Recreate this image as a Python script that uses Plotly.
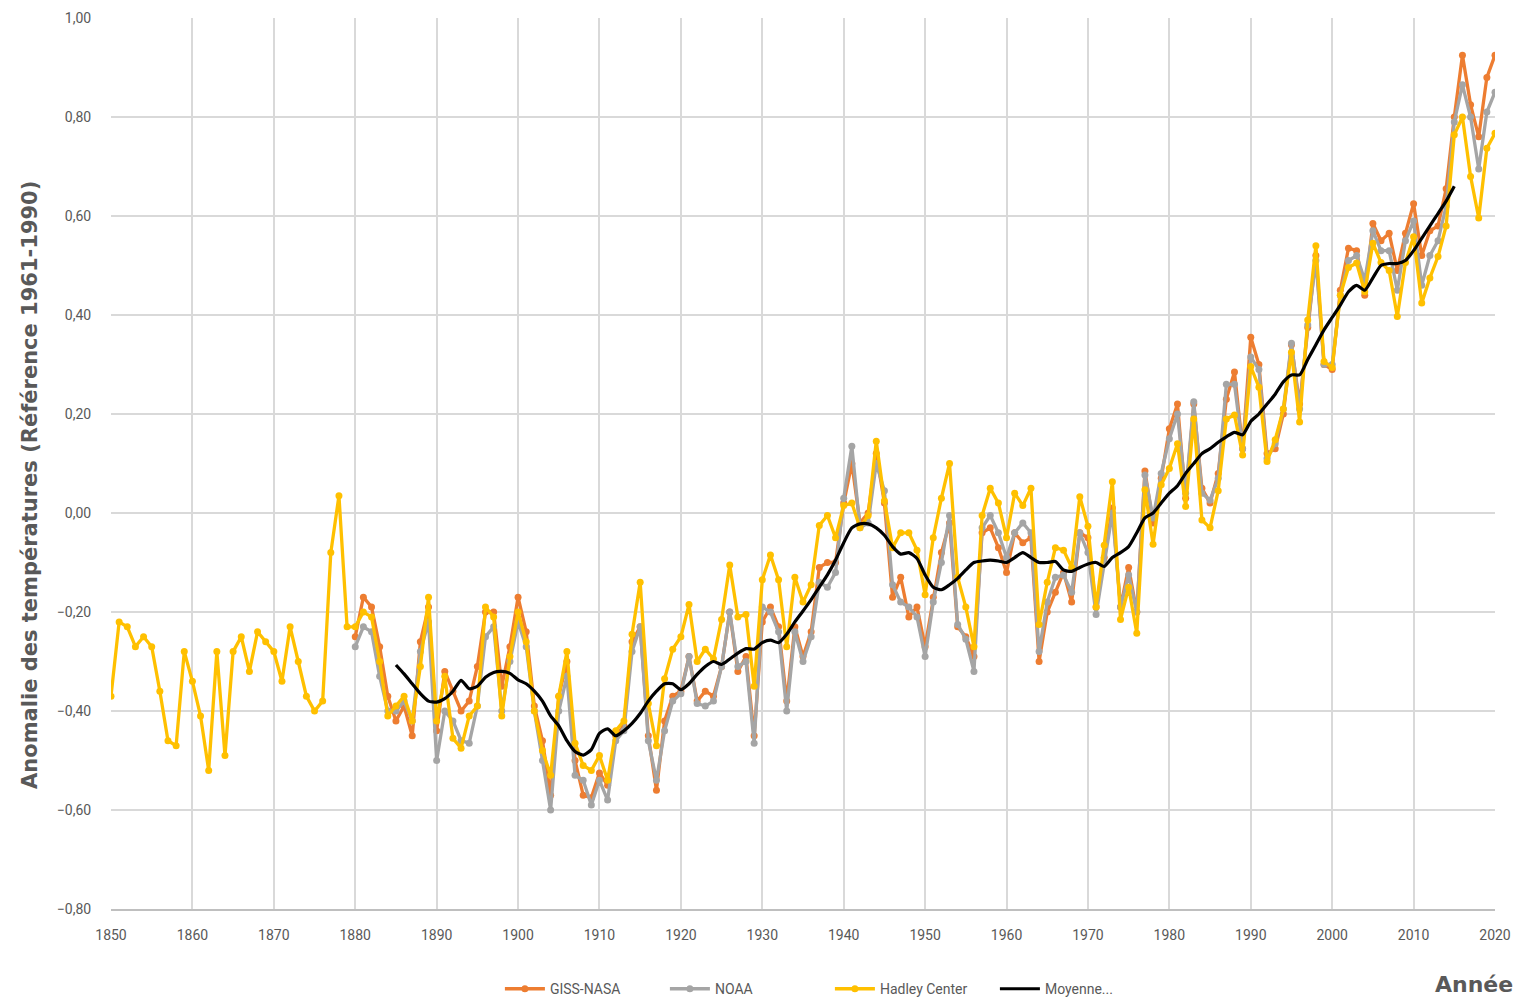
import plotly.graph_objects as go

# ---- Data ----
years_hadley = list(range(1850, 2021))
hadley = [
    -0.37, -0.22, -0.23, -0.27, -0.25, -0.27, -0.36, -0.46, -0.47, -0.28,   # 1850-1859
    -0.34, -0.41, -0.52, -0.28, -0.49, -0.28, -0.25, -0.32, -0.24, -0.26,   # 1860-1869
    -0.28, -0.34, -0.23, -0.30, -0.37, -0.40, -0.38, -0.08, 0.035, -0.23,   # 1870-1879
    -0.23, -0.20, -0.21, -0.30, -0.41, -0.39, -0.37, -0.42, -0.31, -0.17,   # 1880-1889
    -0.42, -0.33, -0.455, -0.475, -0.41, -0.39, -0.19, -0.21, -0.41, -0.29, # 1890-1899
    -0.20, -0.26, -0.40, -0.48, -0.53, -0.37, -0.28, -0.465, -0.51, -0.52,  # 1900-1909
    -0.49, -0.54, -0.44, -0.42, -0.245, -0.14, -0.385, -0.47, -0.335, -0.275, # 1910-1919
    -0.25, -0.185, -0.30, -0.275, -0.295, -0.215, -0.105, -0.21, -0.205, -0.35, # 1920-1929
    -0.135, -0.085, -0.135, -0.27, -0.13, -0.18, -0.145, -0.025, -0.005, -0.05, # 1930-1939
    0.015, 0.02, -0.03, -0.005, 0.145, 0.025, -0.07, -0.04, -0.04, -0.075,   # 1940-1949
    -0.165, -0.05, 0.03, 0.10, -0.13, -0.19, -0.27, -0.005, 0.05, 0.02,      # 1950-1959
    -0.05, 0.04, 0.015, 0.05, -0.225, -0.14, -0.07, -0.075, -0.11, 0.033,    # 1960-1969
    -0.027, -0.19, -0.065, 0.063, -0.215, -0.15, -0.243, 0.047, -0.063, 0.057, # 1970-1979
    0.09, 0.14, 0.013, 0.19, -0.014, -0.03, 0.045, 0.19, 0.198, 0.117,       # 1980-1989
    0.296, 0.254, 0.104, 0.148, 0.21, 0.325, 0.184, 0.39, 0.54, 0.306,       # 1990-1999
    0.294, 0.44, 0.496, 0.505, 0.447, 0.545, 0.506, 0.49, 0.397, 0.506,      # 2000-2009
    0.558, 0.424, 0.475, 0.518, 0.58, 0.764, 0.80, 0.68, 0.596, 0.737,       # 2010-2019
    0.767,                                                                    # 2020
]

years_main = list(range(1880, 2021))
giss = [
    -0.25, -0.17, -0.19, -0.27, -0.37, -0.42, -0.39, -0.45, -0.26, -0.19,   # 1880-1889
    -0.44, -0.32, -0.36, -0.40, -0.38, -0.31, -0.20, -0.20, -0.35, -0.27,   # 1890-1899
    -0.17, -0.24, -0.39, -0.46, -0.57, -0.37, -0.30, -0.50, -0.57, -0.575,  # 1900-1909
    -0.525, -0.55, -0.45, -0.43, -0.26, -0.23, -0.45, -0.56, -0.42, -0.37,  # 1910-1919
    -0.36, -0.29, -0.38, -0.36, -0.37, -0.31, -0.20, -0.32, -0.29, -0.45,   # 1920-1929
    -0.22, -0.19, -0.23, -0.38, -0.23, -0.29, -0.24, -0.11, -0.10, -0.10,   # 1930-1939
    0.02, 0.10, -0.02, 0.00, 0.12, 0.02, -0.17, -0.13, -0.21, -0.19,        # 1940-1949
    -0.27, -0.17, -0.08, -0.02, -0.23, -0.25, -0.29, -0.04, -0.03, -0.07,   # 1950-1959
    -0.12, -0.04, -0.06, -0.05, -0.30, -0.20, -0.16, -0.12, -0.18, -0.04,   # 1960-1969
    -0.05, -0.19, -0.09, 0.01, -0.19, -0.11, -0.20, 0.085, -0.02, 0.07,     # 1970-1979
    0.17, 0.22, 0.03, 0.22, 0.05, 0.02, 0.08, 0.23, 0.285, 0.13,            # 1980-1989
    0.355, 0.30, 0.12, 0.13, 0.20, 0.34, 0.22, 0.375, 0.52, 0.30,           # 1990-1999
    0.29, 0.45, 0.535, 0.53, 0.44, 0.585, 0.55, 0.565, 0.49, 0.565,         # 2000-2009
    0.625, 0.52, 0.57, 0.58, 0.655, 0.80, 0.925, 0.825, 0.76, 0.88,         # 2010-2019
    0.925,                                                                   # 2020
]
noaa = [
    -0.27, -0.23, -0.24, -0.33, -0.40, -0.40, -0.38, -0.42, -0.28, -0.22,   # 1880-1889
    -0.50, -0.40, -0.42, -0.46, -0.465, -0.39, -0.25, -0.23, -0.40, -0.30,  # 1890-1899
    -0.22, -0.27, -0.40, -0.50, -0.60, -0.40, -0.33, -0.53, -0.54, -0.59,   # 1900-1909
    -0.54, -0.58, -0.46, -0.44, -0.28, -0.23, -0.46, -0.54, -0.44, -0.38,   # 1910-1919
    -0.365, -0.29, -0.385, -0.39, -0.38, -0.31, -0.20, -0.31, -0.30, -0.465, # 1920-1929
    -0.19, -0.20, -0.24, -0.40, -0.24, -0.30, -0.25, -0.14, -0.15, -0.12,   # 1930-1939
    0.03, 0.135, -0.03, -0.02, 0.10, 0.045, -0.145, -0.18, -0.19, -0.21,    # 1940-1949
    -0.29, -0.18, -0.10, -0.005, -0.225, -0.255, -0.32, -0.03, -0.005, -0.04, # 1950-1959
    -0.09, -0.04, -0.02, -0.04, -0.28, -0.18, -0.13, -0.125, -0.16, -0.04,  # 1960-1969
    -0.08, -0.205, -0.10, 0.00, -0.19, -0.125, -0.20, 0.077, -0.01, 0.08,   # 1970-1979
    0.15, 0.20, 0.04, 0.225, 0.04, 0.026, 0.07, 0.26, 0.26, 0.13,           # 1980-1989
    0.315, 0.29, 0.11, 0.14, 0.21, 0.343, 0.21, 0.38, 0.51, 0.30,           # 1990-1999
    0.30, 0.44, 0.51, 0.52, 0.47, 0.57, 0.53, 0.53, 0.45, 0.55,             # 2000-2009
    0.59, 0.46, 0.52, 0.55, 0.62, 0.79, 0.865, 0.80, 0.695, 0.81,           # 2010-2019
    0.85,                                                                    # 2020
]

years_avg = list(range(1885, 2016))
moyenne = [
    -0.307, -0.325, -0.345, -0.365, -0.38,                                   # 1885-1889
    -0.382, -0.375, -0.36, -0.338, -0.355, -0.35, -0.332, -0.322, -0.32, -0.324, # 1890-1899
    -0.337, -0.345, -0.36, -0.38, -0.41, -0.43, -0.46, -0.482, -0.489, -0.478,   # 1900-1909
    -0.445, -0.436, -0.45, -0.44, -0.425, -0.405, -0.38, -0.36, -0.345, -0.345,  # 1910-1919
    -0.357, -0.345, -0.326, -0.31, -0.30, -0.306, -0.295, -0.283, -0.274, -0.275, # 1920-1929
    -0.262, -0.257, -0.262, -0.245, -0.22, -0.198, -0.175, -0.15, -0.125, -0.095, # 1930-1939
    -0.06, -0.03, -0.022, -0.022, -0.03, -0.045, -0.068, -0.083, -0.08, -0.092,   # 1940-1949
    -0.125, -0.15, -0.155, -0.145, -0.132, -0.115, -0.10, -0.097, -0.095, -0.097, # 1950-1959
    -0.10, -0.09, -0.08, -0.09, -0.10, -0.10, -0.098, -0.115, -0.118, -0.11,      # 1960-1969
    -0.103, -0.10, -0.108, -0.09, -0.08, -0.068, -0.04, -0.01, 0.0, 0.02,         # 1970-1979
    0.04, 0.055, 0.08, 0.10, 0.12, 0.13, 0.143, 0.154, 0.163, 0.158,             # 1980-1989
    0.185, 0.20, 0.22, 0.24, 0.265, 0.279, 0.279, 0.31, 0.34, 0.37,              # 1990-1999
    0.395, 0.42, 0.447, 0.46, 0.45, 0.475, 0.50, 0.504, 0.504, 0.51,             # 2000-2009
    0.53, 0.555, 0.58, 0.605, 0.63, 0.66,                                        # 2010-2015
]

series_names = ["GISS-NASA", "NOAA", "Hadley Center", "Moyenne..."]
x_ticks = list(range(1850, 2021, 10))
y_ticks = [-0.8, -0.6, -0.4, -0.2, 0.0, 0.2, 0.4, 0.6, 0.8, 1.0]

# ---- Styles ----
C_GISS = "#ED7D31"
C_NOAA = "#A5A5A5"
C_HAD = "#FFC000"
C_AVG = "#000000"
TXT = "#595959"
GRID = "#D9D9D9"
FONT = "Liberation Sans Narrow, Roboto, sans-serif"
LW = 3.3
MS = 7

fig = go.Figure()
fig.add_trace(go.Scatter(x=years_main, y=giss, name=series_names[0], mode="lines+markers",
                         line=dict(color=C_GISS, width=LW), marker=dict(size=MS, color=C_GISS)))
fig.add_trace(go.Scatter(x=years_main, y=noaa, name=series_names[1], mode="lines+markers",
                         line=dict(color=C_NOAA, width=LW), marker=dict(size=MS, color=C_NOAA)))
fig.add_trace(go.Scatter(x=years_hadley, y=hadley, name=series_names[2], mode="lines+markers",
                         line=dict(color=C_HAD, width=LW), marker=dict(size=MS, color=C_HAD)))
fig.add_trace(go.Scatter(x=years_avg, y=moyenne, name=series_names[3], mode="lines",
                         line=dict(color=C_AVG, width=3.2, shape="spline", smoothing=0.6)))

fig.update_layout(
    width=1506, height=991,
    margin=dict(l=103, r=19, t=10, b=90, autoexpand=False),
    paper_bgcolor="white", plot_bgcolor="white",
    separators=", ",
    font=dict(family=FONT, size=14, color=TXT),
    showlegend=True,
    legend=dict(orientation="h", x=0.281, xanchor="left", y=-0.072, yanchor="top",
                font=dict(size=14, color=TXT), itemwidth=40,
                entrywidth=110, entrywidthmode="pixels"),
    xaxis=dict(range=[1850, 2020], tickvals=x_ticks, showgrid=True, gridcolor=GRID, gridwidth=1.5,
               zeroline=False, showline=True, linecolor="#BFBFBF", linewidth=2, automargin=False,
               ticks="outside", ticklen=12, tickcolor="rgba(0,0,0,0)",
               tickfont=dict(size=14, color=TXT)),
    yaxis=dict(range=[-0.8, 1.0], tickvals=y_ticks, tickformat=".2f", showgrid=True,
               gridcolor=GRID, gridwidth=1.5, zeroline=False, showline=False, automargin=False,
               ticks="outside", ticklen=16, tickcolor="rgba(0,0,0,0)",
               tickfont=dict(size=14, color=TXT)),
    annotations=[
        dict(text="<b>Anomalie des températures (Référence 1961-1990)</b>", textangle=-90,
             xref="paper", yref="paper", x=-0.0585, y=0.476, xanchor="center", yanchor="middle",
             showarrow=False, font=dict(size=21, color=TXT, family="DejaVu Sans, sans-serif")),
        dict(text="<b>Année</b>", xref="paper", yref="paper", x=0.985, y=-0.085,
             xanchor="center", yanchor="middle", showarrow=False,
             font=dict(size=22, color=TXT, family="DejaVu Sans, sans-serif")),
    ],
)

fig.write_html("out.html")
